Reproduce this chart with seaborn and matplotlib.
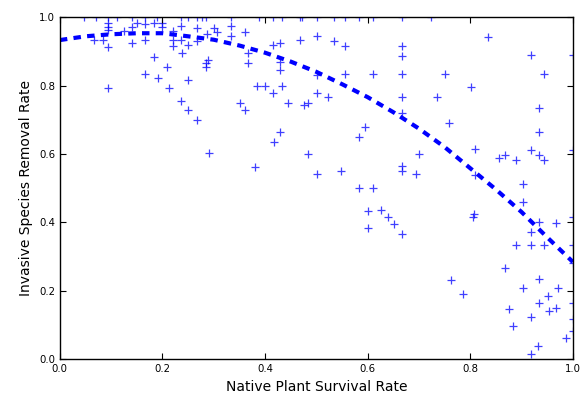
import pandas as pd
import seaborn as sns
import matplotlib.pyplot as plt

# values
survival = [
    0.094, 0.094, 0.094, 0.140, 0.150, 0.166, 0.183, 0.199, 0.199, 0.236,
    0.066, 0.084, 0.125, 0.140, 0.166, 0.220, 0.220, 0.220, 0.236, 0.250,
    0.094, 0.238, 0.183, 0.209, 0.166, 0.191, 0.250, 0.094, 0.212, 0.236,
    0.250,
    0.267, 0.300, 0.306, 0.333, 0.333, 0.361, 0.287, 0.267, 0.468, 0.415,
    0.429, 0.366, 0.288, 0.285, 0.285, 0.366, 0.429, 0.429, 0.501, 0.384,
    0.400, 0.433, 0.415, 0.501, 0.351, 0.444, 0.476, 0.483, 0.361, 0.267,
    0.429,
    0.501, 0.534, 0.556, 0.667, 0.667, 0.556, 0.610, 0.667, 0.750, 0.522,
    0.667, 0.735, 0.667, 0.758, 0.595, 0.583,
    0.834, 0.918, 1.000, 0.943, 0.801, 0.934, 0.934,
    0.290, 0.417, 0.483, 0.380, 0.501,
    0.700, 0.548, 0.667, 0.667, 0.694, 0.583, 0.610, 0.600, 0.626, 0.639,
    0.651, 0.600, 0.667,
    0.809, 0.856, 0.867, 0.889, 0.918, 0.934, 0.943, 1.000, 0.809, 0.903,
    0.903, 0.807, 0.805, 1.000, 0.934, 0.967, 0.918, 0.889, 0.918, 0.943,
    1.000,
    1.000, 0.867, 0.762, 0.934, 0.903, 0.971, 1.000, 1.000, 1.000, 0.786,
    0.934, 0.951, 0.875, 0.953, 0.967, 0.918, 0.883, 0.986, 0.932, 0.918,
    # points sitting on the top edge
    0.047, 0.070, 0.094, 0.111, 0.140, 0.166, 0.189, 0.236, 0.250, 0.267,
    0.277, 0.285, 0.333, 0.388, 0.415, 0.433, 0.468, 0.472, 0.501, 0.534,
    0.556, 0.583, 0.610, 0.667, 0.723,
]
removal = [
    0.982, 0.971, 0.962, 0.971, 0.982, 0.980, 0.982, 0.982, 0.971, 0.974,
    0.933, 0.933, 0.959, 0.924, 0.933, 0.959, 0.933, 0.915, 0.933, 0.918,
    0.912, 0.895, 0.883, 0.854, 0.833, 0.822, 0.816, 0.792, 0.792, 0.754,
    0.728,
    0.968, 0.968, 0.956, 0.974, 0.944, 0.956, 0.950, 0.930, 0.933, 0.918,
    0.924, 0.895, 0.874, 0.865, 0.854, 0.865, 0.868, 0.845, 0.830, 0.798,
    0.798, 0.798, 0.778, 0.778, 0.749, 0.749, 0.743, 0.749, 0.728, 0.699,
    0.664,
    0.944, 0.930, 0.915, 0.915, 0.886, 0.833, 0.833, 0.833, 0.833, 0.766,
    0.766, 0.766, 0.719, 0.690, 0.678, 0.649,
    0.942, 0.889, 0.889, 0.833, 0.795, 0.734, 0.664,
    0.602, 0.635, 0.599, 0.561, 0.541,
    0.599, 0.550, 0.564, 0.550, 0.541, 0.500, 0.500, 0.433, 0.436, 0.415,
    0.395, 0.383, 0.365,
    0.614, 0.588, 0.596, 0.582, 0.611, 0.596, 0.582, 0.611, 0.538, 0.512,
    0.459, 0.424, 0.415, 0.415, 0.401, 0.398, 0.371, 0.333, 0.333, 0.333,
    0.333,
    0.281, 0.266, 0.231, 0.234, 0.208, 0.208, 0.164, 0.117, 0.082, 0.190,
    0.164, 0.184, 0.146, 0.140, 0.149, 0.123, 0.096, 0.061, 0.038, 0.015,
    1.0, 1.0, 1.0, 1.0, 1.0, 1.0, 1.0, 1.0, 1.0, 1.0,
    1.0, 1.0, 1.0, 1.0, 1.0, 1.0, 1.0, 1.0, 1.0, 1.0,
    1.0, 1.0, 1.0, 1.0, 1.0,
]

# fitted trend line
fit_x = [0.00, 0.05, 0.10, 0.15, 0.20, 0.25, 0.30, 0.35, 0.40, 0.45, 0.50,
         0.55, 0.60, 0.65, 0.70, 0.75, 0.80, 0.85, 0.90, 0.95, 1.00]
fit_y = [0.933, 0.944, 0.950, 0.953, 0.953, 0.944, 0.934, 0.917, 0.896, 0.870, 0.840,
         0.804, 0.766, 0.722, 0.674, 0.620, 0.558, 0.496, 0.430, 0.356, 0.284]

df = pd.DataFrame({"survival": survival, "removal": removal})
fit = pd.DataFrame({"survival": fit_x, "removal": fit_y})

plt.rcParams["font.family"] = "DejaVu Sans"
fig, ax = plt.subplots(figsize=(5.87, 3.99), dpi=100)
fig.subplots_adjust(left=0.102, right=0.976, bottom=0.100, top=0.957)

sns.scatterplot(data=df, x="survival", y="removal", marker="+", color="blue",
                s=30, linewidth=0.9, alpha=0.75, ax=ax)
sns.lineplot(data=fit, x="survival", y="removal", estimator=None, color="blue",
             linewidth=3, linestyle=(0, (1.8, 1.5)), ax=ax)

ax.set_xlim(0, 1)
ax.set_ylim(0, 1)
ax.set_xticks([0, 0.2, 0.4, 0.6, 0.8, 1.0])
ax.set_yticks([0, 0.2, 0.4, 0.6, 0.8, 1.0])
ax.tick_params(direction="in", top=True, right=True, length=4, labelsize=7.3)
for s in ax.spines.values():
    s.set_color("black")
    s.set_linewidth(1)

ax.set_xlabel("Native Plant Survival Rate", fontsize=10)
ax.set_ylabel("Invasive Species Removal Rate", fontsize=10)

fig.savefig("out.png", dpi=100)
